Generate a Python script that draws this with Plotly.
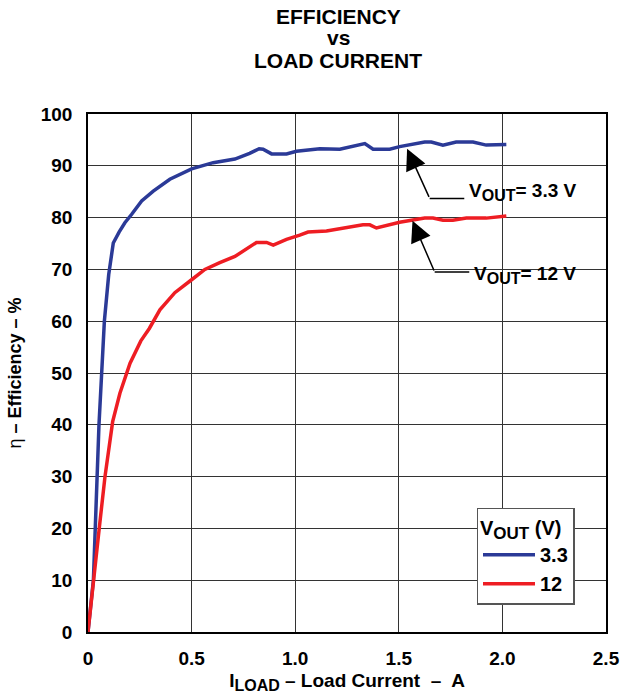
import plotly.graph_objects as go

# Load current (A) and efficiency (%) for each output voltage
i_load_3v3 = [0, 0.026, 0.053, 0.079, 0.10, 0.114, 0.122, 0.15, 0.178, 0.21, 0.259,
              0.315, 0.395, 0.5, 0.604, 0.709, 0.78, 0.826, 0.845, 0.886, 0.958,
              1.006, 1.119, 1.215, 1.336, 1.376, 1.456, 1.504, 1.625, 1.657, 1.713,
              1.777, 1.858, 1.922, 2.019]
eff_3v3 = [0, 10, 40, 60, 69, 73.5, 75.1, 77.2, 79, 80.6, 83.2,
           85.1, 87.4, 89.4, 90.6, 91.3, 92.4, 93.3, 93.2, 92.3, 92.3,
           92.8, 93.3, 93.2, 94.3, 93.2, 93.2, 93.7, 94.6, 94.6, 94.0,
           94.6, 94.6, 94.0, 94.1]

i_load_12v = [0, 0.026, 0.055, 0.082, 0.119, 0.154, 0.203, 0.255, 0.296, 0.347,
              0.419, 0.5, 0.564, 0.636, 0.709, 0.813, 0.862, 0.894, 0.958, 1.022,
              1.062, 1.151, 1.327, 1.36, 1.392, 1.504, 1.569, 1.625, 1.665, 1.713,
              1.761, 1.826, 1.922, 2.019]
eff_12v = [0, 10.3, 20.3, 30, 40.6, 46.1, 51.9, 56.2, 58.6, 62.2,
           65.5, 68.0, 70.0, 71.3, 72.5, 75.2, 75.2, 74.7, 75.8, 76.6,
           77.2, 77.4, 78.6, 78.6, 78.0, 79.1, 79.5, 79.9, 79.9, 79.5,
           79.5, 79.9, 79.9, 80.3]

x_ticks = [0, 0.5, 1.0, 1.5, 2.0, 2.5]
x_tick_text = ["0", "0.5", "1.0", "1.5", "2.0", "2.5"]
y_ticks = [0, 10, 20, 30, 40, 50, 60, 70, 80, 90, 100]

title_lines = ["EFFICIENCY", "vs", "LOAD CURRENT"]

BLUE = "#2B3A97"
RED = "#EE1D23"
FONT = "Liberation Sans, Arial, sans-serif"


def sub(text, size):
    # subscript that stays close to the body size
    return f'<sub><span style="font-size:{size}px">{text}</span></sub>'


def bold(size):
    return dict(family=FONT, size=size, color="black", weight="bold")


fig = go.Figure()
fig.add_trace(go.Scatter(x=i_load_3v3, y=eff_3v3, mode="lines", name="3.3",
                         line=dict(color=BLUE, width=3.5)))
fig.add_trace(go.Scatter(x=i_load_12v, y=eff_12v, mode="lines", name="12",
                         line=dict(color=RED, width=3.5)))

# Three-line heading above the plot
for line, ypos in zip(title_lines, [1.1874, 1.1468, 1.1034]):
    fig.add_annotation(x=0.483, y=ypos, xref="paper", yref="paper", text=line,
                       showarrow=False, xanchor="center", yanchor="middle",
                       font=bold(21))

# Callout labels: text, elbow connector and arrow to the curve
callouts = [
    # (label, text x, text y, elbow x, elbow y, tip x, tip y)
    ("V" + sub("OUT", 16) + "= 3.3 V", 1.828, 85.0, 1.649, 83.7, 1.540, 93.3),
    ("V" + sub("OUT", 16) + "= 12 V", 1.852, 69.0, 1.673, 69.5, 1.566, 79.4),
]
for label, tx, ty, ex, ey, px, py in callouts:
    fig.add_shape(type="line", x0=ex, y0=ey, x1=tx - 0.012, y1=ey,
                  xref="x", yref="y", line=dict(color="black", width=1.5))
    fig.add_annotation(x=px, y=py, ax=ex, ay=ey, axref="x", ayref="y",
                       xref="x", yref="y", text="", showarrow=True,
                       arrowhead=2, arrowsize=2.8, arrowwidth=1.5,
                       arrowcolor="black", standoff=0)
    fig.add_annotation(x=tx, y=ty, xref="x", yref="y", text=label,
                       showarrow=False, xanchor="left", yanchor="middle",
                       font=bold(19))

axis_common = dict(
    showline=True, mirror=True, linecolor="black", linewidth=1.5,
    showgrid=True, gridcolor="#333333", gridwidth=1.2,
    zeroline=False, ticks="", tickfont=bold(19),
)

fig.update_xaxes(range=[0, 2.5], tickvals=x_ticks, ticktext=x_tick_text,
                 ticklabelstandoff=8, automargin=False,
                 title=dict(text="I" + sub("LOAD", 16) + " – Load Current  –  A",
                            standoff=6, font=bold(19)),
                 **axis_common)
fig.update_yaxes(range=[0, 100], tickvals=y_ticks,
                 ticklabelstandoff=10, automargin=False,
                 title=dict(text='<span style="font-weight:normal">η</span> – Efficiency – %',
                            standoff=14, font=bold(18)),
                 **axis_common)

fig.update_layout(
    width=621, height=700,
    margin=dict(l=88, r=15, t=114, b=68),
    paper_bgcolor="white", plot_bgcolor="white",
    font=dict(family=FONT, color="black"),
    showlegend=True,
    legend=dict(
        title=dict(text="V" + sub("OUT", 17) + " (V)", font=bold(20)),
        font=bold(20),
        x=0.750, y=0.240, xanchor="left", yanchor="top",
        bgcolor="white", bordercolor="#555555", borderwidth=1.5,
        itemwidth=52, tracegroupgap=0,
    ),
)

fig.write_html("out.html")
